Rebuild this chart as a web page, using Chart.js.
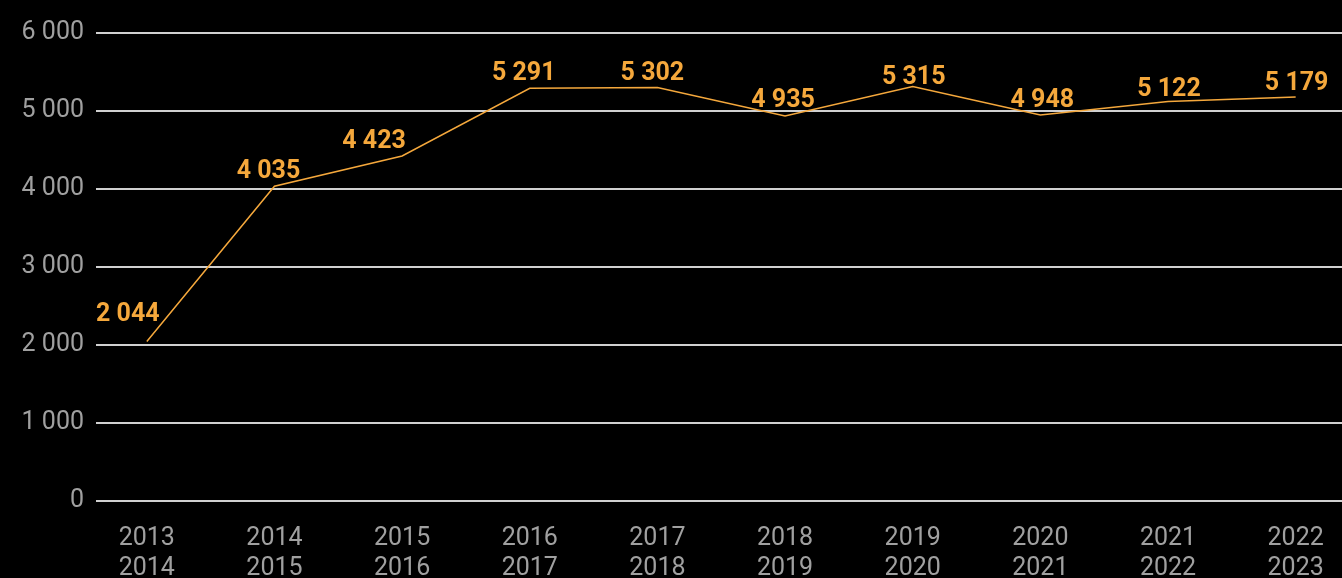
<!DOCTYPE html>
<html>
<head>
<meta charset="utf-8">
<script src="https://cdn.jsdelivr.net/npm/chart.js@4/dist/chart.umd.min.js"></script>
<style>
  html, body { margin: 0; padding: 0; background: #000; }
  #wrap { width: 1342px; height: 578px; }
</style>
</head>
<body>
<div id="wrap"><canvas id="chart"></canvas></div>
<script>
const seasons = [
    ['2013', '2014'], ['2014', '2015'], ['2015', '2016'], ['2016', '2017'], ['2017', '2018'],
    ['2018', '2019'], ['2019', '2020'], ['2020', '2021'], ['2021', '2022'], ['2022', '2023']
];
const values = [2044, 4035, 4423, 5291, 5302, 4935, 5315, 4948, 5122, 5179];
const yTicks = [0, 1000, 2000, 3000, 4000, 5000, 6000];

const fmt = v => String(v).replace(/\B(?=(\d{3})+(?!\d))/g, ' ');

// values written above each point, nudged a little where the line gets in the way
const nudgeX = [-19, -6, -28, -6, -5, -2, 1, 2, 1, 1];
const nudgeY = [-12, 0, 1, 0, 1, 0, 6, 1, 3, 2];
const pointLabels = {
    id: 'pointLabels',
    afterDatasetsDraw(chart) {
        const ctx = chart.ctx;
        const meta = chart.getDatasetMeta(0);
        ctx.save();
        ctx.font = 'bold 25px Roboto';
        ctx.fillStyle = '#f5a83c';
        ctx.textAlign = 'center';
        ctx.textBaseline = 'middle';
        meta.data.forEach((pt, i) => {
            ctx.fillText(fmt(values[i]), pt.x + nudgeX[i], pt.y - 15 + nudgeY[i]);
        });
        ctx.restore();
    }
};

new Chart(document.getElementById('chart'), {
    type: 'line',
    data: {
        datasets: [{
            data: values.map((v, i) => ({ x: i, y: v })),
            borderColor: '#f5a83c',
            borderWidth: 1.5,
            pointRadius: 0,
            tension: 0
        }]
    },
    options: {
        responsive: true,
        maintainAspectRatio: false,
        animation: false,
        layout: { padding: { top: 33, right: 0, left: 0, bottom: 0 } },
        plugins: { legend: { display: false }, tooltip: { enabled: false } },
        scales: {
            x: {
                type: 'linear',
                min: -0.398,
                max: 9.363,
                afterBuildTicks: axis => { axis.ticks = seasons.map((s, i) => ({ value: i })); },
                afterFit: axis => {
                    axis.height = 77;
                    axis.paddingLeft = 0;
                    axis.paddingRight = 0;
                },
                grid: { display: false },
                border: { display: false },
                ticks: {
                    color: '#a0a0a0',
                    font: { family: 'Roboto', size: 25, lineHeight: 1.2 },
                    padding: 15,
                    maxRotation: 0,
                    autoSkip: false,
                    callback: v => seasons[v]
                }
            },
            y: {
                min: 0,
                max: 6000,
                afterBuildTicks: axis => { axis.ticks = yTicks.map(v => ({ value: v })); },
                afterFit: axis => { axis.width = 96; },
                grid: { color: '#d0d0d0', lineWidth: 2, drawTicks: false },
                border: { display: false },
                ticks: {
                    color: '#a0a0a0',
                    font: { family: 'Roboto', size: 25 },
                    padding: 12,
                    callback: v => fmt(v)
                }
            }
        }
    },
    plugins: [pointLabels]
});
</script>
</body>
</html>
